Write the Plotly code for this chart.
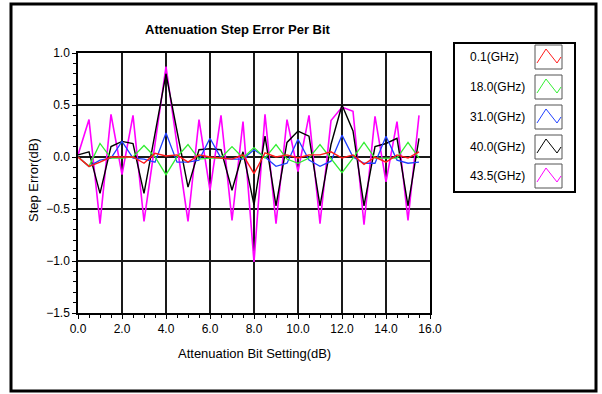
import plotly.graph_objects as go

# ---- data ----
bit_setting = [0.0, 0.5, 1.0, 1.5, 2.0, 2.5, 3.0, 3.5, 4.0, 4.5, 5.0, 5.5, 6.0, 6.5, 7.0, 7.5,
               8.0, 8.5, 9.0, 9.5, 10.0, 10.5, 11.0, 11.5, 12.0, 12.5, 13.0, 13.5, 14.0, 14.5, 15.0, 15.5]

err_0_1 = [0.00, -0.09, -0.05, 0.00, 0.00, 0.00, -0.06, 0.035, 0.01, 0.02, -0.05, 0.02, 0.00, -0.01, -0.02, 0.02,
           -0.16, 0.04, 0.00, 0.02, -0.01, 0.02, 0.02, 0.05, -0.01, 0.02, -0.07, 0.00, -0.05, 0.02, -0.01, 0.05]
err_18_0 = [0.00, -0.09, 0.13, -0.01, -0.01, 0.00, 0.11, 0.00, -0.17, 0.00, 0.12, -0.02, -0.01, -0.01, 0.10, -0.01,
            0.09, -0.01, 0.12, -0.02, -0.06, -0.01, 0.12, -0.01, -0.15, -0.01, 0.14, -0.01, -0.01, -0.01, 0.14, -0.01]
err_31_0 = [0.00, -0.09, -0.03, -0.01, 0.15, -0.01, -0.02, -0.05, 0.23, -0.05, -0.05, -0.03, 0.18, -0.01, -0.02, -0.02,
            0.07, 0.00, -0.09, -0.06, 0.17, -0.03, -0.09, -0.04, 0.21, 0.00, -0.06, -0.06, 0.20, -0.03, -0.06, -0.05]
err_40_0 = [0.02, 0.05, -0.35, 0.10, 0.15, 0.13, -0.35, 0.22, 0.80, 0.25, -0.29, 0.07, 0.08, 0.07, -0.32, 0.05,
            -0.46, 0.20, -0.47, 0.14, 0.25, 0.20, -0.47, 0.12, 0.50, 0.25, -0.47, 0.10, 0.13, 0.18, -0.47, 0.18]
err_43_5 = [0.02, 0.36, -0.64, 0.41, -0.17, 0.40, -0.62, 0.12, 0.87, 0.12, -0.62, 0.36, -0.32, 0.40, -0.61, 0.34,
            -1.01, 0.41, -0.64, 0.36, -0.14, 0.40, -0.64, 0.35, 0.48, 0.44, -0.65, 0.39, -0.24, 0.34, -0.61, 0.40]

series_names = ["0.1(GHz)", "18.0(GHz)", "31.0(GHz)", "40.0(GHz)", "43.5(GHz)"]
series_values = [err_0_1, err_18_0, err_31_0, err_40_0, err_43_5]
series_colors = ["#ff1a1a", "#33ee33", "#2040ff", "#000000", "#ff00ff"]

x_tick_vals = [0, 2, 4, 6, 8, 10, 12, 14, 16]
y_tick_vals = [-1.5, -1.0, -0.5, 0.0, 0.5, 1.0]

title_text = "Attenuation Step Error Per Bit"
x_title = "Attenuation Bit Setting(dB)"
y_title = "Step Error(dB)"

FONT = "Liberation Sans, Arial, sans-serif"

fig = go.Figure()
draw_order = [4, 3, 2, 1, 0]
line_widths = [1.4, 1.3, 1.3, 1.4, 1.6]
for i in draw_order:
    fig.add_trace(go.Scatter(
        x=bit_setting, y=series_values[i], mode="lines", name=series_names[i],
        line=dict(color=series_colors[i], width=line_widths[i]), showlegend=False,
        hoverinfo="skip"))

W, H = 602, 394
L, R, T, B = 78, 172, 53, 81
pw, ph = W - L - R, H - T - B


def px(xp):
    return (xp - L) / pw


def py(yp):
    return (H - B - yp) / ph


shapes = []
annotations = []

# outer frame
shapes.append(dict(type="rect", xref="paper", yref="paper",
                   x0=px(11), x1=px(596), y0=py(391), y1=py(4),
                   line=dict(color="black", width=3), layer="below"))
# legend frame
shapes.append(dict(type="rect", xref="paper", yref="paper",
                   x0=px(454), x1=px(575), y0=py(192), y1=py(43),
                   line=dict(color="black", width=2)))

label_y = [57, 87, 117, 147, 176]
for name, color, cy in zip(series_names, series_colors, label_y):
    annotations.append(dict(text=name, xref="paper", yref="paper", x=px(468), y=py(cy),
                            xanchor="left", yanchor="middle", showarrow=False,
                            font=dict(family=FONT, size=12, color="black")))
    bx0, by0 = 535, cy - 12
    shapes.append(dict(type="rect", xref="paper", yref="paper",
                       x0=px(bx0), x1=px(bx0 + 27), y0=py(by0 + 24), y1=py(by0),
                       line=dict(color="#555555", width=1)))
    pts = [(bx0 + 2, by0 + 18), (bx0 + 11, by0 + 4), (bx0 + 22, by0 + 18), (bx0 + 26, by0 + 12)]
    path = "M " + " L ".join(f"{px(a):.5f},{py(b):.5f}" for a, b in pts)
    shapes.append(dict(type="path", xref="paper", yref="paper", path=path,
                       line=dict(color=color, width=1)))

annotations.append(dict(text=f"<b>{title_text}</b>", xref="paper", yref="paper",
                        x=px(238), y=py(29), xanchor="center", yanchor="middle",
                        showarrow=False, font=dict(family=FONT, size=13, color="black")))
annotations.append(dict(text=x_title, xref="paper", yref="paper",
                        x=px(254), y=py(354), xanchor="center", yanchor="middle",
                        showarrow=False, font=dict(family=FONT, size=13, color="black")))
annotations.append(dict(text=y_title, xref="paper", yref="paper", textangle=-90,
                        x=px(33), y=py(180), xanchor="center", yanchor="middle",
                        showarrow=False, font=dict(family=FONT, size=13, color="black")))

axis_common = dict(showline=True, mirror=True, linecolor="black", linewidth=1.5,
                   showgrid=True, gridcolor="#1a1a1a", gridwidth=1.5, zeroline=False,
                   ticks="outside", ticklen=4, tickcolor="black", tickwidth=1,
                   tickformat=".1f", tickfont=dict(family=FONT, size=12, color="black"))

fig.update_layout(
    width=W, height=H,
    margin=dict(l=L, r=R, t=T, b=B),
    paper_bgcolor="white", plot_bgcolor="white",
    shapes=shapes, annotations=annotations,
    xaxis=dict(range=[0, 16], tickmode="array", tickvals=x_tick_vals,
               minor=dict(dtick=0.5, ticks="outside", ticklen=3, tickcolor="black", showgrid=False),
               **axis_common),
    yaxis=dict(range=[-1.5, 1.0], tickmode="array", tickvals=y_tick_vals,
               minor=dict(dtick=0.1, ticks="outside", ticklen=3, tickcolor="black", showgrid=False),
               **axis_common),
)

fig.write_html("out.html", config={"displayModeBar": False},
               post_script="document.body.style.margin='0px';document.body.style.overflow='hidden';")
